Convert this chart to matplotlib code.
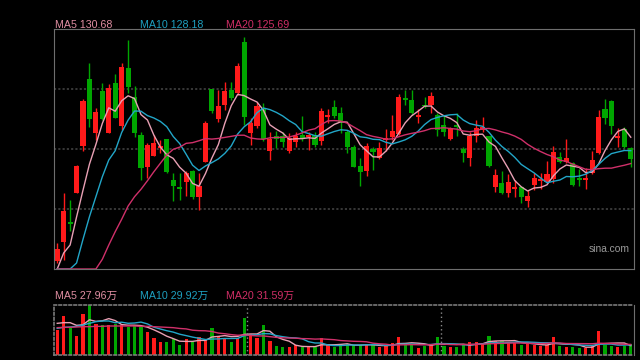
import numpy as np
import pandas as pd
import matplotlib
matplotlib.use('Agg')
import matplotlib.pyplot as plt

# daily candles
opens = [106.88, 110.53, 114.36, 119.92, 128.93, 141.77, 131.42, 139.47, 131.42, 141.00,
         132.76, 143.88, 138.32, 131.03, 124.90, 127.01, 128.54, 130.27, 122.41, 121.07,
         122.03, 124.13, 119.15, 125.86, 139.85, 134.10, 136.78, 139.66, 139.08, 148.86,
         131.42, 132.76, 136.21, 127.97, 130.84, 130.84, 127.97, 129.69, 131.03, 130.65,
         131.03, 129.88, 134.48, 136.40, 135.25, 131.61, 128.73, 125.09, 124.13, 128.35,
         126.63, 130.08, 130.65, 131.23, 138.13, 137.74, 134.48, 136.78, 136.78, 134.87,
         132.95, 130.27, 132.95, 128.35, 126.63, 130.84, 131.99, 130.84, 121.07, 121.83,
         119.92, 120.68, 121.07, 118.38, 121.45, 122.22, 122.03, 122.60, 126.82, 125.86,
         125.67, 122.79, 122.41, 123.75, 127.58, 136.02, 137.55, 130.46, 132.18, 128.54]
highs = [110.33, 119.92, 118.58, 125.28, 137.93, 144.83, 136.21, 141.00, 140.81, 142.73,
         144.83, 149.24, 140.43, 131.61, 129.50, 131.03, 130.08, 130.27, 123.75, 123.75,
         124.13, 124.33, 123.75, 133.72, 139.85, 139.66, 141.19, 141.19, 144.83, 149.82,
         134.29, 137.36, 137.17, 131.61, 131.80, 131.61, 131.42, 131.61, 134.68, 131.61,
         131.61, 136.21, 136.02, 137.74, 136.40, 131.99, 129.12, 126.63, 129.50, 128.73,
         129.69, 132.18, 134.87, 138.89, 139.66, 139.66, 136.02, 138.32, 139.28, 135.25,
         134.87, 132.57, 135.25, 128.73, 131.61, 133.91, 134.48, 130.84, 124.52, 124.13,
         123.56, 122.41, 121.26, 120.49, 123.75, 123.75, 126.05, 128.93, 127.78, 130.27,
         125.86, 124.52, 124.71, 127.97, 135.83, 137.93, 137.74, 132.38, 132.57, 128.73]
lows = [106.50, 107.08, 112.63, 119.92, 127.97, 132.57, 130.08, 133.91, 131.42, 134.29,
        131.99, 139.08, 130.65, 122.41, 122.79, 127.01, 127.58, 123.75, 118.38, 118.58,
        119.34, 118.77, 116.66, 125.86, 135.25, 133.53, 135.83, 137.74, 138.70, 132.95,
        129.12, 132.38, 129.88, 126.24, 128.54, 128.73, 127.58, 128.73, 129.88, 128.16,
        128.73, 129.12, 133.33, 134.29, 131.42, 127.58, 124.90, 121.26, 123.18, 124.33,
        126.43, 127.97, 130.08, 131.03, 136.78, 134.87, 133.33, 136.21, 135.25, 130.84,
        130.84, 130.08, 130.84, 125.86, 125.09, 129.69, 131.61, 124.90, 120.11, 119.73,
        119.15, 119.15, 118.00, 117.23, 120.49, 120.68, 121.83, 121.83, 125.67, 125.67,
        121.26, 121.26, 120.68, 123.56, 127.39, 133.14, 131.23, 128.73, 128.54, 124.90]
closes = [109.18, 116.47, 113.98, 125.09, 137.55, 134.10, 135.44, 134.10, 140.04, 134.29,
          144.07, 140.23, 131.42, 124.71, 129.12, 129.50, 128.93, 123.94, 121.26, 120.68,
          123.75, 119.15, 121.26, 133.33, 135.63, 136.59, 139.47, 138.13, 144.26, 134.48,
          133.33, 136.59, 130.27, 130.27, 130.27, 129.69, 130.46, 130.84, 130.46, 131.03,
          129.12, 135.63, 134.87, 134.68, 133.53, 128.73, 124.90, 123.94, 128.93, 127.78,
          128.54, 130.46, 131.80, 138.32, 137.74, 135.25, 134.87, 136.59, 138.51, 131.99,
          131.61, 132.38, 132.57, 127.58, 130.84, 132.38, 132.57, 125.09, 123.37, 119.92,
          122.03, 121.07, 119.15, 119.34, 122.79, 122.60, 123.56, 127.78, 125.86, 126.63,
          121.45, 122.41, 122.79, 126.24, 134.48, 134.29, 132.76, 130.84, 128.73, 126.43]
# volume, in 万
volumes = [75, 117, 81, 57, 123, 150, 93, 90, 90, 93,
           90, 84, 90, 84, 69, 51, 39, 39, 48, 30,
           48, 39, 54, 48, 81, 57, 51, 39, 51, 111,
           63, 51, 90, 42, 27, 24, 24, 30, 24, 24,
           24, 51, 30, 24, 30, 33, 30, 30, 30, 30,
           24, 27, 36, 54, 33, 33, 21, 27, 30, 54,
           27, 24, 24, 33, 39, 39, 33, 57, 42, 42,
           39, 36, 30, 33, 30, 27, 30, 54, 27, 24,
           24, 21, 21, 27, 72, 30, 27, 24, 27, 32]

# first MA points depend on days before the window
ma5_head = [105.35, 108.42, 109.95, 115.32]
ma10_head = [105.35, 105.35, 105.35, 106.50, 111.04, 115.37, 119.21, 123.04, 126.24]
ma20_head = [105.35, 105.35, 105.35, 105.35, 105.35, 105.35, 105.35, 107.21, 109.95, 112.50,
             114.88, 117.42, 119.21, 120.63, 122.27, 124.00, 125.61, 127.20, 128.29]
vma5_head = [95, 97, 97, 89]
vma10_head = [80, 83, 84, 86, 90, 95, 100, 102, 102]
vma20_head = [82, 83, 83, 84, 85, 85, 86, 86, 87, 87, 87, 87, 87, 86, 86, 85, 84, 83, 82]

price_labels = ['MA5 130.68', 'MA10 128.18', 'MA20 125.69']
vol_labels = ['MA5 27.96万', 'MA10 29.92万', 'MA20 31.59万']
month_breaks = [29.5, 59.5]

RED = '#ff1a1a'
GREEN = '#00a600'
MA_COLORS = ['#e8a0b4', '#22a6c8', '#d0306a']
TXT_COLORS = ['#e08ea2', '#1ea0c0', '#d02e66']
GRID = '#474747'
EDGE = '#6e6e6e'
FONT = ['Liberation Sans', 'Noto Sans CJK SC']


def moving(values, n, head):
    out = pd.Series(values, dtype=float).rolling(n).mean().to_numpy()
    out[:len(head)] = head
    return out


o = np.array(opens)
h = np.array(highs)
l = np.array(lows)
c = np.array(closes)
v = np.array(volumes)
x = np.arange(len(c))
colors = np.where(c >= o, RED, GREEN)

fig = plt.figure(figsize=(6.4, 3.6), dpi=100, facecolor='black')
ax = fig.add_axes([54 / 640, 91 / 360, 580 / 640, 240 / 360], facecolor='black')
axv = fig.add_axes([54 / 640, 5 / 360, 580 / 640, 50 / 360], facecolor='black')

# price panel
ax.vlines(x, l, h, colors=colors, lw=1)
ax.bar(x, np.maximum(np.abs(c - o), 0.2), bottom=np.minimum(o, c),
       width=0.8, color=colors, lw=0)
for n, head, col in zip([5, 10, 20], [ma5_head, ma10_head, ma20_head], MA_COLORS):
    ax.plot(x, moving(c, n, head), color=col, lw=1)
ax.set_xlim(-0.5, len(c) - 0.5)
ax.set_ylim(105.35, 151.35)
ax.set_yticks([116.85, 128.35, 139.85])
ax.yaxis.grid(True, color=GRID, linestyle=(0, (1.4, 1.4)), lw=1.1)
ax.set_axisbelow(True)
ax.tick_params(left=False, bottom=False, labelleft=False, labelbottom=False)
for s in ax.spines.values():
    s.set_color(EDGE)
ax.text(0.992, 0.085, 'sina.com', transform=ax.transAxes, ha='right', va='center',
        color='#9a9a9a', fontsize=7.4, family=FONT)

# volume panel
axv.bar(x, v, width=0.5, color=colors, lw=0)
for n, head, col in zip([5, 10, 20], [vma5_head, vma10_head, vma20_head], MA_COLORS):
    axv.plot(x, moving(v, n, head), color=col, lw=1)
for b in month_breaks:
    axv.axvline(b, color='#8a8a8a', linestyle=(0, (1, 2)), lw=1)
axv.set_xlim(-0.5, len(c) - 0.5)
axv.set_ylim(0, 150)
axv.tick_params(left=False, bottom=False, labelleft=False, labelbottom=False)
axv.spines['right'].set_color(EDGE)
for side in ['top', 'bottom', 'left']:
    axv.spines[side].set_color('#7a7a7a')
    axv.spines[side].set_linestyle((0, (1.5, 1.5)))
    axv.spines[side].set_linewidth(1.2)

# MA legends
for xpos, lab, col in zip([55, 140, 226], price_labels, TXT_COLORS):
    fig.text(xpos / 640, 1 - 24.5 / 360, lab, color=col, fontsize=7.7,
             va='center', ha='left', family=FONT)
for xpos, lab, col in zip([55, 140, 226], vol_labels, TXT_COLORS):
    fig.text(xpos / 640, 1 - 295.5 / 360, lab, color=col, fontsize=7.7,
             va='center', ha='left', family=FONT)

fig.savefig('out.png', dpi=100, facecolor='black')
